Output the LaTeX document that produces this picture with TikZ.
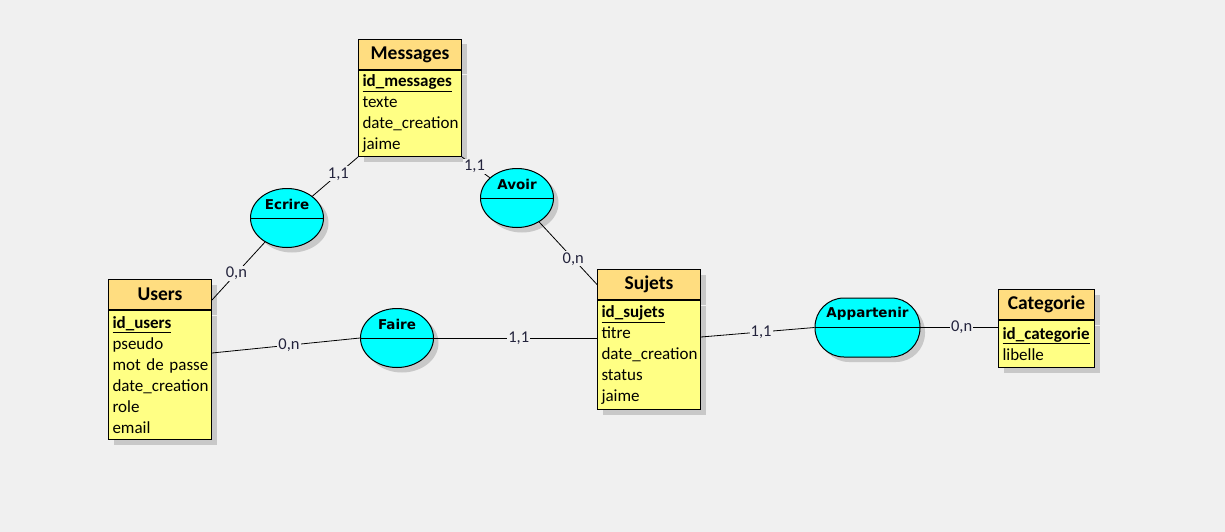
\documentclass[tikz,border=0pt]{standalone}
\usepackage{fontspec}
\setmainfont{Carlito}
\newfontfamily\relfont{DejaVu Sans}
\usetikzlibrary{calc,positioning,shapes.geometric,shadows}

\definecolor{fond}{RGB}{240,240,240}
\definecolor{entete}{RGB}{255,221,128}
\definecolor{corpsent}{RGB}{255,255,132}
\definecolor{assoc}{RGB}{0,255,255}
\definecolor{ombre}{RGB}{200,200,200}
\definecolor{cardcol}{RGB}{35,35,60}

\tikzset{
  ombrage/.style={drop shadow={shadow xshift=5pt,shadow yshift=-5pt,fill=ombre,opacity=1}},
  entete/.style={draw,line width=1pt,fill=entete,ombrage,minimum height=30pt,
    inner sep=0pt,font=\fontsize{19.5}{22}\selectfont\bfseries},
  corps/.style={draw,line width=1pt,fill=corpsent,ombrage,inner xsep=4pt,inner ysep=0pt,
    align=left,font=\fontsize{17}{21}\selectfont},
  relation/.style={draw,line width=1pt,fill=assoc,ombrage,ellipse,inner sep=0pt,
    minimum width=73pt,minimum height=59pt},
  relnom/.style={font=\relfont\fontsize{13.5}{15}\selectfont\bfseries},
  lien/.style={line width=0.8pt},
  card/.style={fill=fond,inner sep=1pt,text=cardcol,font=\fontsize{16.5}{18}\selectfont}
}

\begin{document}
\begin{tikzpicture}[x=1pt,y=-1pt]
  % fond
  \useasboundingbox (0,0) rectangle (1225,532);
  \fill[fond] (0,0) rectangle (1225,532);

  % Entites
  \node[entete,minimum width=103pt,anchor=north west] (messages-h) at (358,39) {Messages};
  \node[corps,text width=95pt,minimum height=86pt,below=0pt of messages-h] (messages-b)
    {\underline{\textbf{id\_messages}}\\texte\\\mbox{date\_creation}\\jaime};

  \node[entete,minimum width=103pt,anchor=north west] (users-h) at (108,279) {Users};
  \node[corps,text width=95pt,minimum height=129pt,below=0pt of users-h] (users-b)
    {\underline{\textbf{id\_users}}\\pseudo\\\mbox{mot de passe}\\\mbox{date\_creation}\\role\\email};

  \node[entete,minimum width=103pt,anchor=north west] (sujets-h) at (597,269) {Sujets};
  \node[corps,text width=95pt,minimum height=109pt,below=0pt of sujets-h] (sujets-b)
    {\underline{\textbf{id\_sujets}}\\titre\\\mbox{date\_creation}\\status\\jaime};

  \node[entete,minimum width=96pt,anchor=north west] (categorie-h) at (998,289) {Categorie};
  \node[corps,text width=88pt,minimum height=47pt,below=0pt of categorie-h] (categorie-b)
    {\underline{\textbf{id\_categorie}}\\libelle};

  % Associations
  \node[relation] (ecrire) at (287,218) {};
  \node[relation] (avoir) at (517,198) {};
  \node[relation] (faire) at (397,338) {};
  \node[relation,rectangle,rounded corners=29pt,minimum width=105pt] (appartenir) at (867.5,327.5) {};
  \foreach \r in {ecrire,avoir,faire,appartenir}
    \draw[line width=1pt] (\r.west) -- (\r.east);
  \node[relnom] (ecrire-t) at ($(ecrire)+(0,-14)$) {Ecrire};
  \node[relnom] (avoir-t) at ($(avoir)+(0,-14)$) {Avoir};
  \node[relnom] (faire-t) at ($(faire)+(0,-14)$) {Faire};
  \node[relnom] (appartenir-t) at ($(appartenir)+(0,-14)$) {Appartenir};

  % Liens et cardinalites
  \draw[lien] (ecrire) -- (messages-b.south west) node[card,pos=.57] {1,1};
  \draw[lien] (ecrire) -- ($(users-h.south east)+(0,-10)$) node[card,pos=.54] {0,n};
  \draw[lien] (avoir) -- (messages-b.south east) node[card,pos=.55] {1,1};
  \draw[lien] (avoir) -- (sujets-h.west) node[card,pos=.59] {0,n};
  \draw[lien] (faire.west) -- ($(users-b.north east)+(0,43)$) node[card,pos=.48] {0,n};
  \draw[lien] (faire.east) -- (faire.east -| sujets-b.west) node[card,pos=.52] {1,1};
  \draw[lien] (appartenir.west) -- ($(sujets-b.north east)+(0,37)$) node[card,pos=.47] {1,1};
  \draw[lien] (appartenir.east) -- (appartenir.east -| categorie-b.west) node[card,pos=.53] {0,n};
\end{tikzpicture}
\end{document}
